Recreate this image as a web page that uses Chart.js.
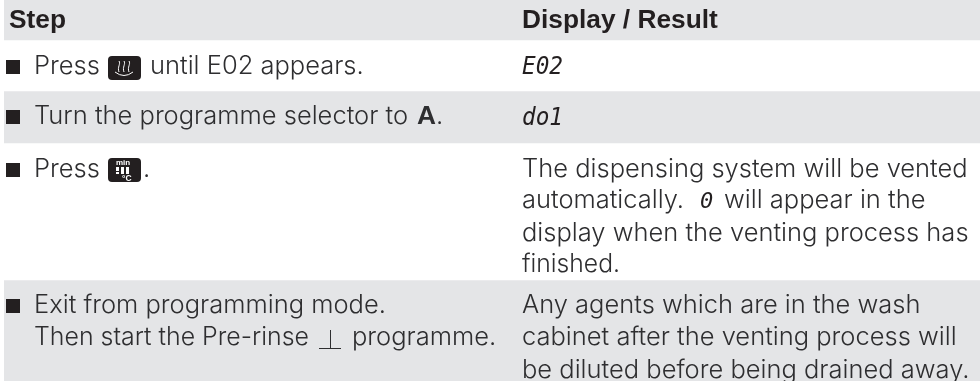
<!DOCTYPE html>
<html><head>
<style>
  html, body { margin: 0; padding: 0; background: #fff; }
  #wrap { width: 980px; height: 381px; }
</style>
<script src="https://cdn.jsdelivr.net/npm/chart.js"></script>
</head>
<body>
<div id="wrap"><canvas id="chart" aria-label="Step and Display / Result table"></canvas></div>
<script>
// row bands top to bottom, in reference pixels
const rowNames = ['header', 'e02', 'do1', 'vent', 'exit'];
const rowStart = [0, 40, 91, 143, 280];
const rowEnd = [40, 91, 143, 280, 381];
const headerLabels = ['Step', 'Display / Result'];
const stepRows = [
  'Press', 'until E02 appears.',
  'Turn the programme selector to', 'A', '.',
  'Press', '.',
  'Exit from programming mode.',
  'Then start the Pre-rinse', 'programme.'
];
const resultRows = [
  'The dispensing system will be vented',
  'automatically.', 'will appear in the',
  'display when the venting process has',
  'finished.',
  'Any agents which are in the wash',
  'cabinet after the venting process will',
  'be diluted before being drained away.'
];
const lcdLabels = ['E02', 'do1', '0'];
const keyLabels = ['min', '°C'];

const GREY = '#e4e5e7';
const BODY = '#2e2e30';
const BODY_FONT = '300 25.5px Inter';
const BOLD_FONT = 'bold 26.3px "Liberation Sans"';
const LCD_FONT = 'italic 25px "DejaVu Sans Mono"';

const tablePlugin = {
  id: 'table',
  afterDatasetsDraw(chart) {
    const c = chart.ctx;
    const y = v => chart.scales.y.getPixelForValue(v);
    const text = (s, px, py, font, color, maxW) => {
      c.font = font || BODY_FONT;
      c.fillStyle = color || BODY;
      c.fillText(s, px, y(py), maxW);
    };
    const bullet = py => {
      c.fillStyle = '#231f20';
      c.fillRect(6, y(py) - 14, 14, 14);
    };
    const key = (px, py) => {
      c.fillStyle = '#231f20';
      c.beginPath();
      c.roundRect(px, y(py), 33, 24, 4);
      c.fill();
    };
    c.save();
    c.textBaseline = 'alphabetic';

    // header
    text(headerLabels[0], 9, 28, BOLD_FONT, '#231f20');
    text(headerLabels[1], 522, 28, BOLD_FONT, '#231f20');

    // left column
    bullet(74);
    text(stepRows[0], 34, 74, null, null, 66);
    key(108, 56);
    c.strokeStyle = '#fff';
    c.lineWidth = 1;
    for (const dx of [119, 124, 129]) {
      c.beginPath();
      c.moveTo(dx, y(61));
      c.bezierCurveTo(dx + 2, y(64), dx - 2, y(67), dx, y(72));
      c.stroke();
    }
    c.beginPath();
    c.moveTo(115, y(72));
    c.quadraticCurveTo(124, y(79), 133, y(72));
    c.stroke();
    text(stepRows[1], 150, 74, null, null, 216);

    bullet(124);
    text(stepRows[2], 34, 124, null, null, 375);
    text(stepRows[3], 417, 124, BOLD_FONT);
    text(stepRows[4], 436, 124);

    bullet(177);
    text(stepRows[5], 34, 177, null, null, 66);
    key(108, 158);
    text(keyLabels[0], 116, 165, 'bold 8px "Liberation Sans"', '#fff');
    c.fillStyle = '#fff';
    for (const bx of [116, 121, 126]) c.fillRect(bx, y(167), 3, bx === 116 ? 4 : 7);
    for (const bx of [116, 126]) c.fillRect(bx, y(172), 3, 2);
    text(keyLabels[1], 122, 181, 'bold 8.5px "Liberation Sans"', '#fff');
    text(stepRows[6], 143, 177);

    bullet(313);
    text(stepRows[7], 34, 313, null, null, 353);
    text(stepRows[8], 34, 345, null, null, 275);
    c.fillStyle = BODY;
    c.fillRect(319, y(348), 22, 1);
    c.fillRect(330, y(330), 1, 18);
    text(stepRows[9], 352, 345, null, null, 145);

    // right column
    text(lcdLabels[0], 522, 74, LCD_FONT, '#231f20', 41);
    text(lcdLabels[1], 522, 125, LCD_FONT, '#231f20', 41);
    text(resultRows[0], 522, 177, null, null, 446);
    text(resultRows[1], 522, 208, null, null, 162);
    text(lcdLabels[2], 700, 208, 'italic 22px "DejaVu Sans Mono"', '#231f20');
    text(resultRows[2], 724, 208, null, null, 202);
    text(resultRows[3], 522, 241, null, null, 449);
    text(resultRows[4], 522, 272, null, null, 98);
    text(resultRows[5], 522, 313, null, null, 399);
    text(resultRows[6], 522, 345, null, null, 436);
    text(resultRows[7], 522, 378, null, null, 454);
    c.restore();
  }
};

new Chart(document.getElementById('chart'), {
  type: 'bar',
  data: {
    labels: ['table'],
    datasets: rowNames.map((name, i) => ({
      label: name,
      data: [[rowStart[i], rowEnd[i]]],
      backgroundColor: i % 2 === 0 ? GREY : '#ffffff',
      grouped: false,
      barPercentage: 1,
      categoryPercentage: 1,
      borderWidth: 0
    }))
  },
  options: {
    responsive: true,
    maintainAspectRatio: false,
    animation: false,
    layout: { padding: { left: 4, right: 0, top: 0, bottom: 0 } },
    plugins: { legend: { display: false }, tooltip: { enabled: false } },
    scales: {
      x: { display: false },
      y: { display: false, reverse: true, min: 0, max: 381 }
    }
  },
  plugins: [tablePlugin]
});
</script>
</body></html>
